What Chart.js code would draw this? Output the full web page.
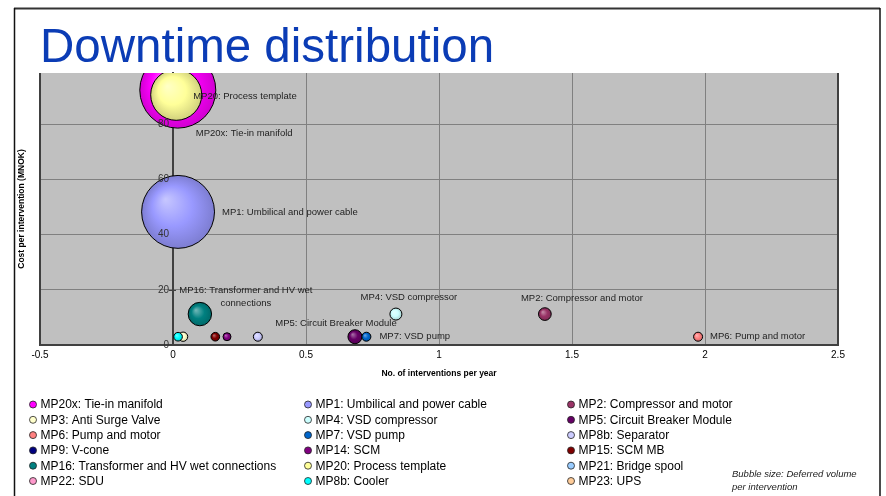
<!DOCTYPE html>
<html>
<head>
<meta charset="utf-8">
<title>Downtime distribution</title>
<script src="https://cdn.jsdelivr.net/npm/chart.js@4.4.1/dist/chart.umd.min.js"></script>
<style>
  html, body { margin: 0; padding: 0; background: #ffffff; }
  canvas { display: block; }
</style>
</head>
<body>
<canvas id="chart" width="886" height="496"></canvas>
<script>
// ---- Data -----------------------------------------------------------------
const seriesNames = [
  'MP20x: Tie-in manifold', 'MP1: Umbilical and power cable', 'MP2: Compressor and motor',
  'MP3: Anti Surge Valve', 'MP4: VSD compressor', 'MP5: Circuit Breaker Module',
  'MP6: Pump and motor', 'MP7: VSD pump', 'MP8b: Separator',
  'MP9: V-cone', 'MP14: SCM', 'MP15: SCM MB',
  'MP16: Transformer and HV wet connections', 'MP20: Process template', 'MP21: Bridge spool',
  'MP22: SDU', 'MP8b: Cooler', 'MP23: UPS'
];
const seriesColors = [
  '#FF00FF', '#9999FF', '#993366',
  '#FFFFCC', '#CCFFFF', '#660066',
  '#FF8080', '#0066CC', '#CCCCFF',
  '#000080', '#800080', '#800000',
  '#008080', '#FFFF99', '#99CCFF',
  '#FF99CC', '#00FFFF', '#FFCC99'
];
// No. of interventions per year (null = no point for that series)
const interventionsPerYear = [
  0.018, 0.019, 1.398,
  0.038, 0.838, 0.684,
  1.974, 0.727, 0.319,
  null, 0.203, 0.159,
  0.101, 0.012, null,
  null, 0.019, null
];
// Cost per intervention (MNOK)
const costPerIntervention = [
  92.3, 48.2, 11.2,
  3.0, 11.2, 3.0,
  3.0, 3.0, 3.0,
  null, 3.0, 3.0,
  11.2, 90.6, null,
  null, 3.0, null
];
// Deferred volume per intervention (relative)
const deferredVolume = [
  100, 92, 2.8,
  1.5, 2.5, 3.4,
  1.4, 1.4, 1.4,
  null, 1.1, 1.3,
  9.5, 45, null,
  null, 1.3, null
];
const xTickLabels = ['-0.5', '0', '0.5', '1', '1.5', '2', '2.5'];
const yTickLabels = ['0', '20', '40', '60', '80'];

// Series that carry a text label next to their bubble
const labelledSeries = [
  'MP20x: Tie-in manifold', 'MP1: Umbilical and power cable', 'MP2: Compressor and motor',
  'MP4: VSD compressor', 'MP5: Circuit Breaker Module', 'MP6: Pump and motor',
  'MP7: VSD pump', 'MP16: Transformer and HV wet connections', 'MP20: Process template'
];

// ---- Styling ----------------------------------------------------------------
const FONT = 'Arial, "Liberation Sans", sans-serif';
const MAX_RADIUS = 38;                     // radius of the largest bubble, px
const maxVolume = Math.max(...deferredVolume.filter(v => v != null));
const bubbleRadius = v => MAX_RADIUS * Math.sqrt(v / maxVolume);

// label placement relative to the bubble centre
const labelStyle = {
  'MP20x: Tie-in manifold':        { dx: 18, dy: 43, align: 'left' },
  'MP1: Umbilical and power cable': { dx: 44, dy: 0, align: 'left' },
  'MP2: Compressor and motor':     { dx: 37, dy: -16, align: 'center' },
  'MP4: VSD compressor':           { dx: 13, dy: -17, align: 'center' },
  'MP5: Circuit Breaker Module':   { dx: -19, dy: -13.5, align: 'center' },
  'MP6: Pump and motor':           { dx: 12, dy: 0, align: 'left' },
  'MP7: VSD pump':                 { dx: 13, dy: 0, align: 'left' },
  'MP16: Transformer and HV wet connections': { dx: 46, dy: -24, align: 'center',
                                                 lines: ['MP16: Transformer and HV wet', 'connections'] },
  'MP20: Process template':        { dx: 17, dy: 1.5, align: 'left' }
};

function shade(hex, amt) {
  const n = parseInt(hex.slice(1), 16);
  let r = (n >> 16) & 255, g = (n >> 8) & 255, b = n & 255;
  const f = c => amt >= 0 ? Math.round(c + (255 - c) * amt) : Math.round(c * (1 + amt));
  return `rgb(${f(r)},${f(g)},${f(b)})`;
}

function bubbleFill(color) {
  return (ctx) => {
    const chart = ctx.chart;
    const raw = ctx.raw;
    if (!raw || !chart.chartArea) return color;
    const cx = chart.scales.x.getPixelForValue(raw.x);
    const cy = chart.scales.y.getPixelForValue(raw.y);
    const r = Math.max(raw.r, 1);
    const g = chart.ctx.createRadialGradient(cx - r * 0.35, cy - r * 0.35, 0, cx, cy, r);
    g.addColorStop(0, shade(color, 0.45));
    g.addColorStop(0.55, color);
    g.addColorStop(1, shade(color, -0.18));
    return g;
  };
}

const datasets = seriesNames.map((name, i) => ({
  label: name,
  data: interventionsPerYear[i] == null ? [] : [{
    x: interventionsPerYear[i],
    y: costPerIntervention[i],
    r: bubbleRadius(deferredVolume[i])
  }],
  backgroundColor: bubbleFill(seriesColors[i]),
  borderColor: '#000000',
  borderWidth: 1,
  hoverBorderWidth: 1,
  hoverRadius: 0,
  clip: 0,
  // larger bubbles are drawn first so the small ones stay visible
  order: deferredVolume[i] == null ? 0 : deferredVolume[i]
}));

// ---- Plugins ----------------------------------------------------------------
const frame = {
  id: 'frame',
  beforeDraw(chart) {
    const { ctx, chartArea: a } = chart;
    ctx.save();
    ctx.fillStyle = '#ffffff';
    ctx.fillRect(0, 0, chart.width, chart.height);
    // outer frame
    ctx.strokeStyle = '#333333';
    ctx.lineWidth = 2;
    ctx.beginPath();
    ctx.moveTo(14, 8.5); ctx.lineTo(880, 8.5);
    ctx.stroke();
    ctx.lineWidth = 1.5;
    ctx.strokeStyle = '#111111';
    ctx.beginPath();
    ctx.moveTo(14.5, 8); ctx.lineTo(14.5, chart.height);
    ctx.moveTo(880, 8); ctx.lineTo(880, chart.height);
    ctx.stroke();
    // title
    ctx.fillStyle = '#0B3CB5';
    ctx.font = `47.5px ${FONT}`;
    ctx.textBaseline = 'alphabetic';
    ctx.textAlign = 'left';
    ctx.fillText('Downtime distribution', 40, 62);
    // plot background
    ctx.fillStyle = '#C0C0C0';
    ctx.fillRect(a.left, a.top, a.right - a.left, a.bottom - a.top);
    ctx.restore();
  },
  beforeDatasetsDraw(chart) {
    const { ctx, chartArea: a, scales } = chart;
    ctx.save();
    // plot edges
    ctx.strokeStyle = '#404040';
    ctx.lineWidth = 2;
    ctx.beginPath();
    ctx.moveTo(a.left, a.top); ctx.lineTo(a.left, a.bottom);
    ctx.moveTo(a.right, a.top); ctx.lineTo(a.right, a.bottom + 1);
    ctx.stroke();
    // y tick marks at the x = 0 axis
    const x0 = scales.x.getPixelForValue(0);
    ctx.lineWidth = 1;
    scales.y.ticks.forEach((t) => {
      const y = Math.round(scales.y.getPixelForValue(t.value)) + 0.5;
      ctx.beginPath();
      ctx.moveTo(x0 - 4, y); ctx.lineTo(x0 + 3, y);
      ctx.stroke();
    });
    // axis titles
    ctx.fillStyle = '#000000';
    ctx.font = `bold 8.5px ${FONT}`;
    ctx.textAlign = 'center';
    ctx.textBaseline = 'middle';
    ctx.fillText('No. of interventions per year', (a.left + a.right) / 2, 373.5);
    ctx.save();
    ctx.translate(22, (a.top + a.bottom) / 2);
    ctx.rotate(-Math.PI / 2);
    ctx.fillText('Cost per intervention (MNOK)', 0, 0);
    ctx.restore();
    ctx.restore();
  },
  afterDatasetsDraw(chart) {
    const { ctx, scales } = chart;
    ctx.save();
    // y tick labels sit on top of the bubbles
    const x0 = scales.x.getPixelForValue(0);
    ctx.fillStyle = '#333333';
    ctx.font = `10px ${FONT}`;
    ctx.textAlign = 'right';
    ctx.textBaseline = 'middle';
    scales.y.ticks.forEach((t, i) => {
      ctx.fillText(yTickLabels[i], x0 - 4, scales.y.getPixelForValue(t.value));
    });
    // bubble labels
    ctx.fillStyle = '#222222';
    ctx.font = `9.5px ${FONT}`;
    chart.data.datasets.forEach((ds, i) => {
      if (!labelledSeries.includes(ds.label)) return;
      const el = chart.getDatasetMeta(i).data[0];
      if (!el) return;
      const st = labelStyle[ds.label];
      ctx.textAlign = st.align;
      const lines = st.lines || [ds.label];
      lines.forEach((ln, k) => ctx.fillText(ln, el.x + st.dx, el.y + st.dy + k * 13));
    });
    ctx.restore();
  },
  afterDraw(chart) {
    const { ctx } = chart;
    const colMarker = [33, 308, 571];
    const rowY0 = 404.5, rowStep = 15.3;
    ctx.save();
    ctx.font = `12px ${FONT}`;
    ctx.textBaseline = 'middle';
    ctx.textAlign = 'left';
    chart.data.datasets.forEach((ds, i) => {
      const col = i % 3, row = Math.floor(i / 3);
      const x = colMarker[col], y = rowY0 + row * rowStep;
      ctx.beginPath();
      ctx.arc(x, y, 3.5, 0, Math.PI * 2);
      ctx.fillStyle = seriesColors[i];
      ctx.fill();
      ctx.lineWidth = 0.8;
      ctx.strokeStyle = '#222222';
      ctx.stroke();
      ctx.fillStyle = '#000000';
      ctx.fillText(ds.label, x + 7.5, y + 0.5);
    });
    ctx.font = `italic 9.5px ${FONT}`;
    ctx.fillStyle = '#222222';
    ctx.fillText('Bubble size: Deferred volume', 732, 474);
    ctx.fillText('per intervention', 732, 487);
    ctx.restore();
  }
};

new Chart(document.getElementById('chart'), {
  type: 'bubble',
  data: { datasets },
  plugins: [frame],
  options: {
    responsive: false,
    animation: false,
    events: [],
    layout: { padding: { left: 40, top: 73, right: 48, bottom: 131 } },
    plugins: {
      legend: { display: false },
      title: { display: false },
      tooltip: { enabled: false }
    },
    scales: {
      x: {
        type: 'linear',
        min: -0.5,
        max: 2.5,
        afterFit(scale) { scale.height = 20; },
        afterBuildTicks(scale) {
          scale.ticks = xTickLabels.map(l => ({ value: parseFloat(l) }));
        },
        ticks: {
          padding: 4,
          maxRotation: 0,
          autoSkip: false,
          color: '#000000',
          font: { family: FONT, size: 10 },
          callback: (v, i) => xTickLabels[i]
        },
        grid: { color: '#808080', lineWidth: 1, drawTicks: false },
        border: { display: true, color: '#404040', width: 2 }
      },
      y: {
        type: 'linear',
        min: 0,
        max: 98.5,
        position: { x: 0 },
        afterBuildTicks(scale) {
          scale.ticks = yTickLabels.map(l => ({ value: parseFloat(l) }));
        },
        ticks: { display: false },
        grid: { color: '#808080', lineWidth: 1, drawTicks: false },
        border: { display: true, color: '#404040', width: 2 }
      }
    }
  }
});
</script>
</body>
</html>
